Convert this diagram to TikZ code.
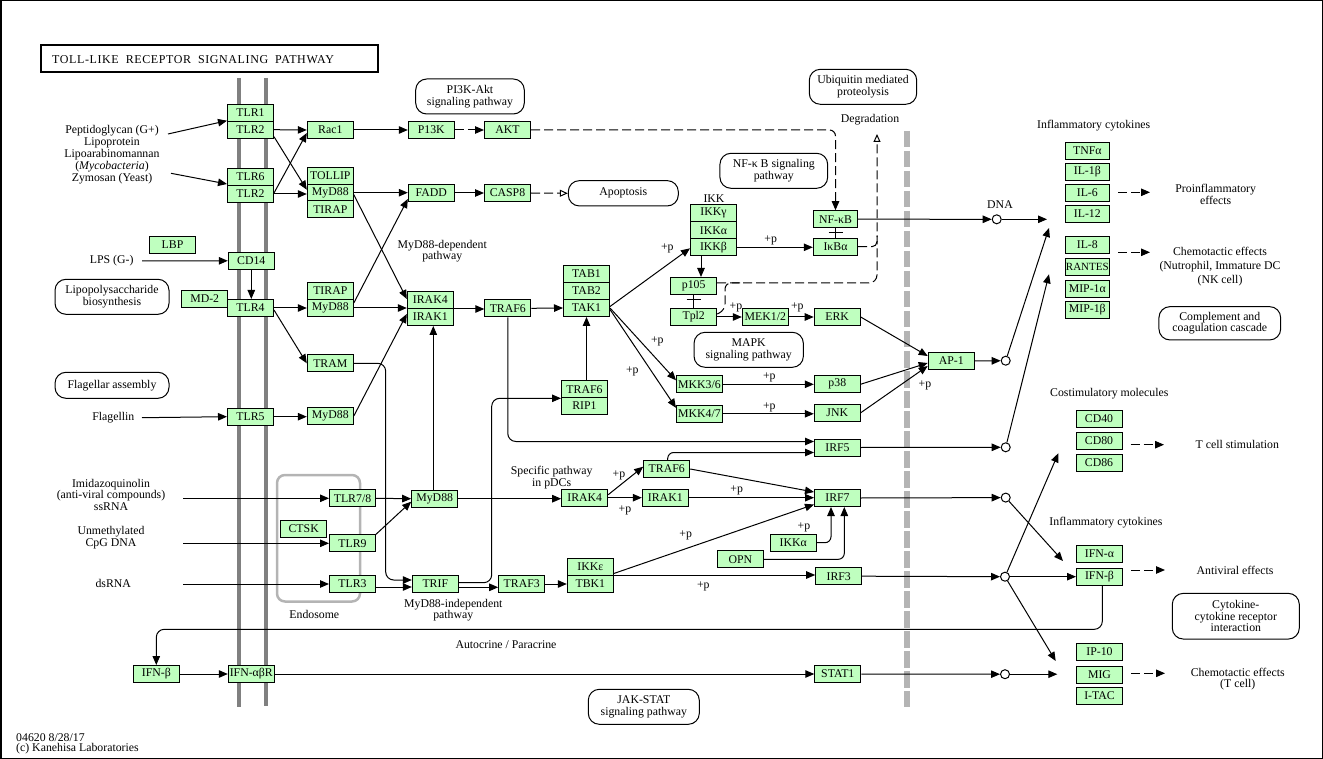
\documentclass[tikz,border=0pt]{standalone}
\usepackage{fontspec}
\setmainfont{Liberation Serif}
\newfontfamily\ttlfont[LetterSpace=5]{Liberation Serif}
\usetikzlibrary{arrows.meta,calc}
\definecolor{kg}{HTML}{BFFFBF}
\definecolor{memb}{HTML}{808080}
\definecolor{nucl}{HTML}{B4B4B4}
\begin{document}
\begin{tikzpicture}[x=1pt,y=-1pt,
  every node/.style={font=\fontsize{11.8}{11.5}\selectfont, inner sep=0pt},
  g/.style={draw, fill=kg, minimum width=46pt, minimum height=17pt, line width=1pt},
  gs/.style={g, minimum width=44pt},
  lnk/.style={line width=1pt},
  arr/.style={lnk, -{Triangle[length=9pt,width=7.5pt]}},
  dsh/.style={lnk, dash pattern=on 9pt off 4pt},
  darr/.style={dsh, -{Triangle[length=9pt,width=7.5pt]}},
  oarr/.style={dsh, -{Triangle[open,length=8pt,width=7pt]}},
  pw/.style={draw, rounded corners=11pt, line width=1pt, align=center},
  lbl/.style={align=center},
  cir/.style={circle, draw, fill=white, minimum size=9pt, line width=1pt},
]
\useasboundingbox (0,0) rectangle (1323,759);
\draw[line width=1.5pt] (0.75,0.75) rectangle (1322.25,758.25);

% title
\draw[line width=2pt] (41,45) rectangle (378,72);
\node[anchor=west, font=\ttlfont\fontsize{12}{12}\selectfont] (title) at (52,60) {TOLL-LIKE\hspace{7pt}RECEPTOR\hspace{7pt}SIGNALING\hspace{7pt}PATHWAY};

% membranes
\draw[memb, line width=3.7pt] (238.7,78) -- (238.7,707);
\draw[memb, line width=3.7pt] (265.7,78) -- (265.7,706);
\draw[nucl, line width=6pt, dash pattern=on 16.5pt off 3.5pt] (906.7,131) -- (906.7,707);
\draw[nucl, line width=2.5pt, rounded corners=8pt] (277,475) rectangle (360,601.5);

% pathway boxes
\node[pw, minimum width=108.6pt, minimum height=35pt] (PIpw) at (470,96.5) {PI3K-Akt\\signaling pathway};
\node[pw, minimum width=107.4pt, minimum height=35pt] (Ubipw) at (863,86.8) {Ubiquitin mediated\\proteolysis};
\node[pw, minimum width=107.7pt, minimum height=35pt] (NFpw) at (773.8,170.8) {NF-κ B signaling\\pathway};
\node[pw, minimum width=110pt, minimum height=25.3pt] (Apoptosis) at (623.3,193.3) {Apoptosis};
\node[pw, minimum width=109.3pt, minimum height=35pt] (MAPKpw) at (748.7,349.8) {MAPK\\signaling pathway};
\node[pw, minimum width=114pt, minimum height=35pt] (LPSpw) at (112,296.8) {Lipopolysaccharide\\biosynthesis};
\node[pw, minimum width=114pt, minimum height=26pt] (Flagpw) at (112,385.3) {Flagellar assembly};
\node[pw, minimum width=121.7pt, minimum height=33.3pt] (Complpw) at (1219.8,323.3) {Complement and\\coagulation cascade};
\node[pw, minimum width=127pt, minimum height=45.7pt] (Cytopw) at (1235.8,616.2) {Cytokine-\\cytokine receptor\\interaction};
\node[pw, minimum width=111pt, minimum height=35pt] (JAKpw) at (643.8,706.8) {JAK-STAT\\signaling pathway};

% gene boxes
\node[g] (TLR1) at (250.5,112.7) {TLR1};
\node[g] (TLR2a) at (250.5,129.7) {TLR2};
\node[g] (TLR6) at (250.5,177) {TLR6};
\node[g] (TLR2b) at (250.5,194) {TLR2};
\node[g] (CD14) at (251.3,260.8) {CD14};
\node[g] (TLR4) at (250.5,308) {TLR4};
\node[g] (TLR5) at (250.5,416.7) {TLR5};
\node[g] (IFNabR) at (251.3,674) {IFN-αβR};
\node[g] (LBP) at (172.5,245) {LBP};
\node[g] (MD2) at (204.7,299) {MD-2};
\node[g] (Rac1) at (330.3,130) {Rac1};
\node[g] (TOLLIP) at (330.3,176) {TOLLIP};
\node[g] (MyD88a) at (330.3,192.7) {MyD88};
\node[g] (TIRAPa) at (330.3,209.2) {TIRAP};
\node[g] (TIRAPb) at (330.3,291) {TIRAP};
\node[g] (MyD88b) at (330.3,308) {MyD88};
\node[g] (TRAM) at (330.3,363.3) {TRAM};
\node[g] (MyD88c) at (330.3,416) {MyD88};
\node[g] (P13K) at (431.3,130) {P13K};
\node[g] (AKT) at (507.5,130) {AKT};
\node[g] (FADD) at (431.3,193) {FADD};
\node[g] (CASP8) at (507.5,193) {CASP8};
\node[g] (IRAK4) at (430.3,300) {IRAK4};
\node[g] (IRAK1) at (430.3,317) {IRAK1};
\node[g] (TRAF6a) at (507.8,308.3) {TRAF6};
\node[g] (TAB1) at (586.5,274) {TAB1};
\node[g] (TAB2) at (586.5,290.8) {TAB2};
\node[g] (TAK1) at (586.5,308) {TAK1};
\node[g] (TRAF6b) at (584.5,389.3) {TRAF6};
\node[g] (RIP1) at (584.5,406) {RIP1};
\node[g] (IKKg) at (713.5,213) {IKKγ};
\node[g] (IKKa) at (713.5,230.3) {IKKα};
\node[g] (IKKb) at (713.5,247.3) {IKKβ};
\node[g] (p105) at (693.7,286) {p105};
\node[g] (Tpl2) at (693.7,317) {Tpl2};
\node[g] (MEK12) at (765.3,317) {MEK1/2};
\node[g] (ERK) at (837.2,317) {ERK};
\node[g, minimum width=44.4pt] (NFkB) at (835.5,219.2) {NF-κB};
\node[g, minimum width=44.4pt] (IkBa) at (835.5,246.7) {IκBα};
\node[g] (MKK36) at (699.5,384.3) {MKK3/6};
\node[g] (MKK47) at (699.5,413.8) {MKK4/7};
\node[g] (p38) at (837.3,384.2) {p38};
\node[g] (JNK) at (837.3,412.7) {JNK};
\node[g] (AP1) at (951.2,361) {AP-1};
\node[g] (IRF5) at (837.5,447.5) {IRF5};
\node[g] (TLR78) at (352.5,498.3) {TLR7/8};
\node[g] (CTSK) at (303.7,529) {CTSK};
\node[g] (TLR9) at (352.5,543.3) {TLR9};
\node[g] (TLR3) at (352.5,584) {TLR3};
\node[g] (MyD88d) at (434.7,498.7) {MyD88};
\node[g] (TRIF) at (435.3,584) {TRIF};
\node[g] (TRAF3) at (521.7,584) {TRAF3};
\node[g] (IRAK4b) at (584.7,497.7) {IRAK4};
\node[g] (IRAK1b) at (665.3,497.7) {IRAK1};
\node[g] (TRAF6c) at (666.7,469) {TRAF6};
\node[g] (IRF7) at (837.5,498) {IRF7};
\node[g] (IKKe) at (590.3,567) {IKKε};
\node[g] (TBK1) at (590.3,584) {TBK1};
\node[g] (IKKa2) at (793.3,542.7) {IKKα};
\node[g] (OPN) at (740.3,559.3) {OPN};
\node[g] (IRF3) at (838.7,576.2) {IRF3};
\node[g] (IFNb1) at (156.3,674) {IFN-β};
\node[g] (STAT1) at (837.8,674) {STAT1};
\node[gs] (TNFa) at (1087.3,151) {TNFα};
\node[gs] (IL1b) at (1087.3,171.7) {IL-1β};
\node[gs] (IL6) at (1087.3,192.7) {IL-6};
\node[gs] (IL12) at (1087.3,213.7) {IL-12};
\node[gs] (IL8) at (1087.3,245) {IL-8};
\node[gs, font=\fontsize{11}{11}\selectfont] (RANTES) at (1087.3,266.7) {RANTES};
\node[gs] (MIP1a) at (1087.3,288.7) {MIP-1α};
\node[gs] (MIP1b) at (1087.3,310) {MIP-1β};
\node[g] (CD40) at (1099,418.7) {CD40};
\node[g] (CD80) at (1099,440.8) {CD80};
\node[g] (CD86) at (1099,462.8) {CD86};
\node[g] (IFNa) at (1099.5,554) {IFN-α};
\node[g] (IFNb2) at (1099.5,576.7) {IFN-β};
\node[g] (IP10) at (1099.5,651.7) {IP-10};
\node[g] (MIG) at (1099.5,675) {MIG};
\node[g] (ITAC) at (1099.5,695.7) {I-TAC};

% circles
\node[cir] (c1) at (996.7,219.3) {};
\node[cir] (c2) at (1005.7,360.7) {};
\node[cir] (c3) at (1005.7,447.3) {};
\node[cir] (c4) at (1005.7,497.6) {};
\node[cir] (c5) at (1005,576.7) {};
\node[cir] (c6) at (1005,674.2) {};

% labels
\node[lbl, font=\fontsize{11.8}{12}\selectfont] (ligs) at (112,154.8) {Peptidoglycan (G+)\\Lipoprotein\\Lipoarabinomannan\\(\textit{Mycobacteria})\\Zymosan (Yeast)};
\node[lbl] (LPS) at (111.7,261) {LPS (G-)};
\node[lbl] (Flagellin) at (113.3,417.7) {Flagellin};
\node[lbl] (Imid) at (111,494.8) {Imidazoquinolin\\(anti-viral compounds)\\ssRNA};
\node[lbl] (Unmeth) at (111,537.5) {Unmethylated\\CpG DNA};
\node[lbl] (dsRNA) at (113.3,583.3) {dsRNA};
\node[lbl] (Endosome) at (314.3,614) {Endosome};
\node[lbl] (MyDdep) at (442.3,251.2) {MyD88-dependent\\pathway};
\node[lbl] (MyDind) at (453.3,610) {MyD88-independent\\pathway};
\node[lbl] (pDC) at (551.7,477.5) {Specific pathway\\in pDCs};
\node[lbl] (Autoc) at (506,645) {Autocrine / Paracrine};
\node[lbl] (IKK) at (714,198.3) {IKK};
\node[lbl] (Degr) at (870,120) {Degradation};
\node[lbl] (DNA) at (1000,205) {DNA};
\node[lbl] (Infl1) at (1093.7,125.7) {Inflammatory cytokines};
\node[lbl] (Proinfl) at (1215.7,194.2) {Proinflammatory\\effects};
\node[lbl, font=\fontsize{11.8}{13.7}\selectfont] (Chemo1) at (1220,266.5) {Chemotactic effects\\(Nutrophil, Immature DC\\(NK cell)};
\node[lbl] (Costim) at (1109.3,394) {Costimulatory molecules};
\node[lbl] (Tcell) at (1237.3,444.7) {T cell stimulation};
\node[lbl] (Infl2) at (1106,522.3) {Inflammatory cytokines};
\node[lbl] (Antiv) at (1235,570) {Antiviral effects};
\node[lbl] (Chemo2) at (1237.7,679.2) {Chemotactic effects\\(T cell)};
\node[anchor=west] (foot1) at (16,737.3) {04620 8/28/17};
\node[anchor=west] (foot2) at (16,748.3) {(c) Kanehisa Laboratories};
% +p labels
\foreach \n/\x/\y in {p1/667.3/248.3, p2/770.7/240.7, p3/736/307.7, p4/797.3/307, p5/657.3/341.7, p6/632.3/371, p7/769.3/377.3, p8/769.3/407, p9/925/385, p10/619/475, p11/625/510.7, p12/736.7/490.7, p13/685.7/535, p14/804/527.3, p15/703.3/586.7}
  \node[lbl] (\n) at (\x,\y) {+p};

% free ends
\coordinate (pgS) at (168,134);
\coordinate (zyS) at (171,173.3);
\coordinate (lpsS) at (142,261);
\coordinate (flS) at (142,417.7);
\coordinate (s78) at (183.3,498.3);
\coordinate (s9) at (183.3,543.3);
\coordinate (s3) at (183.3,584);
\coordinate (o1) at (1047,219.3);
\coordinate (o2) at (1049,228);
\coordinate (o3) at (1049,274.3);
\coordinate (o4) at (1063,561);
\coordinate (o5a) at (1058.3,453.3);
\coordinate (o5b) at (1055.7,661);
\coordinate (o6) at (1057.3,674.2);
\coordinate (dg) at (877,134);

% connectors
\draw[arr] (pgS) -- ([yshift=1pt]TLR1.south west);
\draw[arr] (zyS) -- ([yshift=2pt]TLR6.south west);
\draw[arr] (lpsS) -- (CD14.west);
\draw[arr] (TLR2a.east) -- (Rac1.west);
\draw[arr] ([yshift=2pt]TLR2a.south east) -- ([yshift=3pt]MyD88a.west);
\draw[arr] ([yshift=1pt]TLR2b.east) -- ([yshift=-3pt]Rac1.west);
\draw[arr] (TLR2b.east) -- (TLR2b.east -| MyD88a.west);
\draw[arr] (CD14.south) -- (CD14.south |- TLR4.north);
\draw[arr] (TLR4.east) -- (MyD88b.west);
\draw[arr] ([yshift=-2pt]TLR4.east) -- (TRAM.west);
\draw[arr] (flS) -- (TLR5.west);
\draw[arr] (TLR5.east) -- (TLR5.east -| MyD88c.west);
\draw[arr] (Rac1.east) -- (P13K.west);
\draw[darr] (P13K.east) -- (AKT.west);
\draw[darr, rounded corners=6pt] (AKT.east) -| (NFkB.north);
\draw[arr] (MyD88a.east) -- (MyD88a.east -| FADD.west);
\draw[arr] ([yshift=-2pt]MyD88a.east) -- ([yshift=1pt]IRAK4.west);
\draw[arr] ([yshift=5pt]MyD88b.east) -- ([yshift=-6pt]FADD.west);
\draw[arr] (MyD88b.east) -- (MyD88b.east -| IRAK4.west);
\draw[arr] (MyD88c.east) -- ([yshift=-5pt]IRAK4.south west);
\draw[arr] (FADD.east) -- (CASP8.west);
\draw[oarr] (CASP8.east) -- (Apoptosis.west);
\draw[arr] (IRAK4.south east) -- (IRAK4.south east -| TRAF6a.west);
\draw[arr] (TRAF6a.east) -- (TAK1.west);
\draw[arr] ([yshift=1.5pt]TAK1.east) -- ([yshift=-1pt]IKKb.west);
\draw[arr] (TAK1.east) -- ([yshift=4pt]MKK36.west);
\draw[arr] ([yshift=-1.5pt]TAK1.east) -- ([yshift=6pt]MKK47.west);
\draw[arr] (IKKb.east) -- (IKKb.east -| IkBa.west);
\draw[arr] ([xshift=11pt]IKKb.south west) -- ([xshift=11pt]IKKb.south west |- p105.north);
\draw[lnk] (p105.south) -- (p105.south |- Tpl2.north);
\draw[lnk] ([xshift=-7pt,yshift=-5pt]p105.south) -- ([xshift=7pt,yshift=-5pt]p105.south);
\draw[arr] (Tpl2.east) -- (MEK12.west);
\draw[arr] (MEK12.east) -- (ERK.west);
\draw[lnk] (NFkB.south) -- (IkBa.north);
\draw[lnk] ([xshift=-7pt,yshift=-4.6pt]NFkB.south) -- ([xshift=7pt,yshift=-4.6pt]NFkB.south);
\draw[dsh, rounded corners=5pt] (IkBa.east) -| (877,236);
\draw[oarr, rounded corners=8pt] ([yshift=3pt]p105.east) -| (dg);
\draw[dsh, rounded corners=6pt] ([yshift=3pt]Tpl2.east) -- (725,310) -- (725,283) -- (740,283);
\draw[arr] (ERK.east) -- ([yshift=5pt]AP1.west);
\draw[arr] (p38.east) -- ([yshift=-2pt]AP1.west);
\draw[arr] (JNK.east) -- ([yshift=-5pt]AP1.west);
\draw[arr] (MKK36.east) -- (MKK36.east -| p38.west);
\draw[arr] (MKK47.east) -- (MKK47.east -| JNK.west);
\draw[arr] (AP1.east) -- (c2);
\draw[arr] (NFkB.east) -- (c1);
\draw[arr] (c1) -- (o1);
\draw[arr] (c2) -- (o2);
\draw[arr, rounded corners=8pt] (TRAF6a.south) |- ([yshift=6pt]IRF5.west);
\draw[arr, rounded corners=6pt] ([xshift=1pt]TRAF6c.north) |- ([yshift=-5pt]IRF5.west);
\draw[arr] (IRF5.east) -- (c3);
\draw[arr] (c3) -- (o3);
\draw[arr, rounded corners=8pt] (TRAM.east) -- (385.7,363.3) -- (385.7,580) -- ([yshift=4pt]TRIF.west);
\draw[arr] ([yshift=-3pt]TLR3.east) -- ([yshift=-3pt]TRIF.west);
\draw[arr, rounded corners=8pt] ([yshift=1.3pt]TRIF.east) -- (491.7,582.7) |- (TRAF6b.south west);
\draw[arr] ([yshift=-3.3pt]TRIF.east) -- ([yshift=-3.3pt]TRIF.east -| TRAF3.west);
\draw[arr] (TRAF3.east) -- (TBK1.west);
\draw[arr] (TBK1.north east) -- (TBK1.north east -| IRF3.west);
\draw[arr] ([yshift=1.5pt]TBK1.north east) -- ([yshift=2.5pt]IRF7.south west);
\draw[arr] (TLR78.east) -- (MyD88d.west);
\draw[arr] (TLR9.north east) -- ([yshift=-3pt]MyD88d.west);
\draw[arr] ([xshift=-1.4pt]MyD88d.north) -- ([xshift=-1.4pt]MyD88d.north |- IRAK1.south);
\draw[arr] (TAK1.south |- TRAF6b.north) -- (TAK1.south);
\draw[arr] (MyD88d.east) -- (MyD88d.east -| IRAK4b.west);
\draw[arr] ([yshift=3pt]IRAK4b.east) -- ([yshift=2.3pt]TRAF6c.west);
\draw[arr] (IRAK4b.east) -- (IRAK1b.west);
\draw[arr] (IRAK1b.east) -- (IRAK1b.east -| IRF7.west);
\draw[arr] (TRAF6c.east) -- ([yshift=6pt]IRF7.west);
\draw[arr, rounded corners=6pt] (IKKa2.east) -| ([xshift=-6.5pt]IRF7.south);
\draw[arr, rounded corners=6pt] (OPN.east) -| ([xshift=6.8pt]IRF7.south);
\draw[arr] (IRF7.east) -- (c4);
\draw[arr] (c4) -- (o4);
\draw[arr] (IRF3.east) -- (c5);
\draw[arr] (c5) -- (IFNb2.west);
\draw[arr] (c5) -- (o5a);
\draw[arr] (c5) -- (o5b);
\draw[arr] (STAT1.east) -- (c6);
\draw[arr] (c6) -- (o6);
\draw[arr, rounded corners=8pt] ([xshift=2.8pt]IFNb2.south) -- (1102.3,629.3) -| (IFNb1.north);
\draw[arr] (IFNb1.east) -- (IFNabR.west);
\draw[arr] (IFNabR.east) -- (STAT1.west);
\draw[arr] (s78) -- (TLR78.west);
\draw[arr] (s9) -- (TLR9.west);
\draw[arr] (s3) -- (TLR3.west);
% output dashed arrows
\draw[darr] (1118.3,192.3) coordinate (d1s) -- (1150,192.3) coordinate (d1e);
\draw[darr] (1118.3,252.3) coordinate (d2s) -- (1150,252.3) coordinate (d2e);
\draw[darr] (1130.7,444.7) coordinate (d3s) -- (1164,444.7) coordinate (d3e);
\draw[darr] (1131,570) coordinate (d4s) -- (1165,570) coordinate (d4e);
\draw[darr] (1131,673.3) coordinate (d5s) -- (1165,673.3) coordinate (d5e);
\end{tikzpicture}
\end{document}
